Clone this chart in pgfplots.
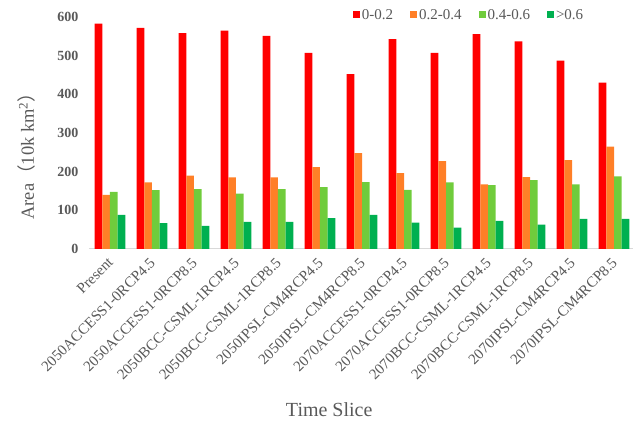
\documentclass[border=0pt]{standalone}
\usepackage{pgfplots}
\pgfplotsset{compat=1.18}
\usepackage{fontspec}
\setmainfont{Liberation Serif}
\newfontfamily\cjk{Noto Sans CJK SC}
\definecolor{cA}{HTML}{FF0000}
\definecolor{cB}{HTML}{FF7F27}
\definecolor{cC}{HTML}{70CC3C}
\definecolor{cD}{HTML}{00B050}
\definecolor{txt}{HTML}{595959}
\definecolor{axl}{HTML}{D9D9D9}
\begin{document}
\begin{tikzpicture}
\useasboundingbox (-89pt,-181pt) rectangle (544pt,249pt);
\begin{axis}[
  scale only axis, width=546pt, height=232pt,
  ymin=0, ymax=600, xmin=-0.5, xmax=12.5,
  ybar=0pt, bar width=7.7pt,
  axis x line*=bottom, axis y line*=left,
  x axis line style={axl, line width=1pt, -},
  y axis line style={draw=none},
  xtick={0,...,12}, major tick length=0pt,
  xticklabels={Present,2050ACCESS1-0RCP4.5,2050ACCESS1-0RCP8.5,2050BCC-CSML-1RCP4.5,2050BCC-CSML-1RCP8.5,2050IPSL-CM4RCP4.5,2050IPSL-CM4RCP8.5,2070ACCESS1-0RCP4.5,2070ACCESS1-0RCP8.5,2070BCC-CSML-1RCP4.5,2070BCC-CSML-1RCP8.5,2070IPSL-CM4RCP4.5,2070IPSL-CM4RCP8.5},
  xticklabel style={xshift=-3pt, yshift=-6pt, rotate=45, anchor=north east, font=\fontsize{15}{15}\selectfont, text=txt, inner sep=1pt},
  ytick={0,100,...,600},
  yticklabel style={font=\fontsize{14}{14}\selectfont\bfseries, text=txt, xshift=-7pt},
  /pgf/number format/assume math mode=true,
  ylabel={Area{\cjk （}10k km\textsuperscript{2}{\cjk ）}},
  ylabel style={at={(axis description cs:-0.114,0.42)}, anchor=center, font=\fontsize{18.5}{18.5}\selectfont, text=txt},
  xlabel={Time Slice},
  xlabel style={at={(axis description cs:0.44,0)}, anchor=center, yshift=-161pt, font=\fontsize{20}{20}\selectfont, text=txt},
  legend columns=4,
  legend style={at={(0.696,1.009)}, anchor=center, draw=none, fill=none, font=\fontsize{15}{15}\selectfont, text=txt, /tikz/every even column/.append style={column sep=15pt}},
  legend image code/.code={\fill[#1] (0pt,-3.5pt) rectangle (7pt,3.5pt);},
  clip=false,
]
\addplot[draw=none, fill=cA] coordinates {(0,583) (1,572) (2,558) (3,565) (4,551) (5,507) (6,452) (7,543) (8,507) (9,556) (10,537) (11,487) (12,430)};
\addplot[draw=none, fill=cB] coordinates {(0,140) (1,172) (2,190) (3,185) (4,185) (5,212) (6,248) (7,196) (8,227) (9,167) (10,186) (11,230) (12,265)};
\addplot[draw=none, fill=cC] coordinates {(0,148) (1,152) (2,155) (3,143) (4,155) (5,160) (6,173) (7,153) (8,172) (9,165) (10,178) (11,167) (12,188)};
\addplot[draw=none, fill=cD] coordinates {(0,88) (1,67) (2,60) (3,70) (4,70) (5,80) (6,88) (7,68) (8,55) (9,73) (10,63) (11,78) (12,78)};
\legend{0-0.2,0.2-0.4,0.4-0.6,>0.6}
\end{axis}
\end{tikzpicture}
\end{document}
